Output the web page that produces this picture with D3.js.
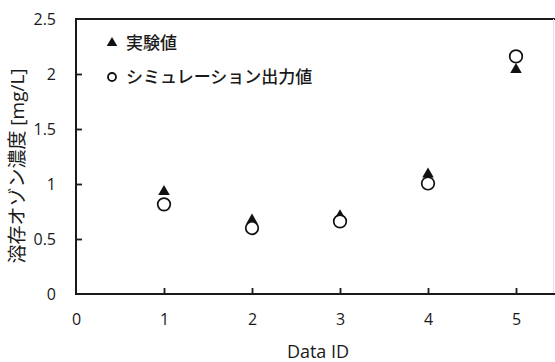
<!DOCTYPE html>
<html><head><meta charset="utf-8">
<script src="https://cdn.jsdelivr.net/npm/d3@7"></script>
<style>
html,body{margin:0;padding:0;background:#fff;overflow:hidden}
text{font-family:"Open Sans","Noto Sans CJK JP",sans-serif;fill:#1a1a1a}
</style></head>
<body>
<svg id="c" width="555" height="362"></svg>
<script>
const ids = [1, 2, 3, 4, 5];
const experimental = [0.93, 0.67, 0.71, 1.09, 2.04];
const simulated = [0.815, 0.60, 0.66, 1.005, 2.16];
const xTicks = [0, 1, 2, 3, 4, 5];
const yTicks = [0, 0.5, 1, 1.5, 2, 2.5];
const seriesNames = ["実験値", "シミュレーション出力値"];
const xTitle = "Data ID";
const yTitle = "溶存オゾン濃度 [mg/L]";

const svg = d3.select("#c");
const x = d3.scaleLinear().domain([0, 6]).range([76, 604]);
const y = d3.scaleLinear().domain([0, 2.5]).range([294, 19]);
const ink = "#1a1a1a";

// frame
svg.append("line").attr("x1", x(0)).attr("x2", x(0)).attr("y1", y(0)).attr("y2", y(2.5)).attr("stroke", ink).attr("stroke-width", 2);
svg.append("line").attr("x1", x(0) - 1).attr("x2", 555).attr("y1", y(2.5)).attr("y2", y(2.5)).attr("stroke", ink).attr("stroke-width", 2);
svg.append("line").attr("x1", 553.5).attr("x2", 553.5).attr("y1", y(2.5)).attr("y2", y(0)).attr("stroke", "#e2e2e2").attr("stroke-width", 1);

// axes with inward ticks
const xAxis = d3.axisBottom(x).tickValues(xTicks).tickSize(-6).tickPadding(20).tickFormat(d3.format("d"));
const gx = svg.append("g").attr("transform", `translate(0,${y(0)})`).call(xAxis);
gx.select(".domain").remove();
gx.append("line").attr("x1", x(0) - 1).attr("x2", 555).attr("stroke", ink).attr("stroke-width", 2);
gx.selectAll(".tick line").attr("stroke", ink).attr("stroke-width", 1.8);
gx.selectAll(".tick").filter(d => d === 0).select("line").remove();
gx.selectAll("text").attr("font-size", 16).style("fill", ink);

const yAxis = d3.axisLeft(y).tickValues(yTicks).tickSize(-6).tickPadding(20).tickFormat(d => d3.format("")(d));
const gy = svg.append("g").attr("transform", `translate(${x(0)},0)`).call(yAxis);
gy.select(".domain").remove();
gy.selectAll(".tick line").attr("stroke", ink).attr("stroke-width", 1.8);
gy.selectAll(".tick").filter(d => d === 0 || d === 2.5).select("line").remove();
gy.selectAll("text").attr("font-size", 16).style("fill", ink);

// titles
svg.append("text").attr("x", 318).attr("y", 358).attr("text-anchor", "middle").attr("font-size", 18).text(xTitle);
svg.append("text").attr("transform", `translate(24,166) rotate(-90)`).attr("text-anchor", "middle").attr("font-size", 19).text(yTitle);

// markers
const tri = d3.symbol().type(d3.symbolTriangle).size(58);
svg.append("g").selectAll("path").data(ids).join("path")
  .attr("d", tri).attr("transform", (d, i) => `translate(${x(d)},${y(experimental[i])})`)
  .attr("fill", "#111");
svg.append("g").selectAll("circle").data(ids).join("circle")
  .attr("cx", d => x(d)).attr("cy", (d, i) => y(simulated[i])).attr("r", 6.3)
  .attr("fill", "#fff").attr("stroke", "#111").attr("stroke-width", 1.7);

// legend
const lg = svg.append("g");
lg.append("path").attr("d", d3.symbol().type(d3.symbolTriangle).size(48)).attr("transform", `translate(112,43)`).attr("fill", "#111");
lg.append("circle").attr("cx", 112).attr("cy", 77).attr("r", 4).attr("fill", "#fff").attr("stroke", "#111").attr("stroke-width", 1.8);
lg.append("text").attr("x", 126).attr("y", 49).attr("font-size", 17).attr("font-weight", 500).text(seriesNames[0]);
lg.append("text").attr("x", 126).attr("y", 83).attr("font-size", 17).attr("font-weight", 500).text(seriesNames[1]);
</script>
</body></html>
